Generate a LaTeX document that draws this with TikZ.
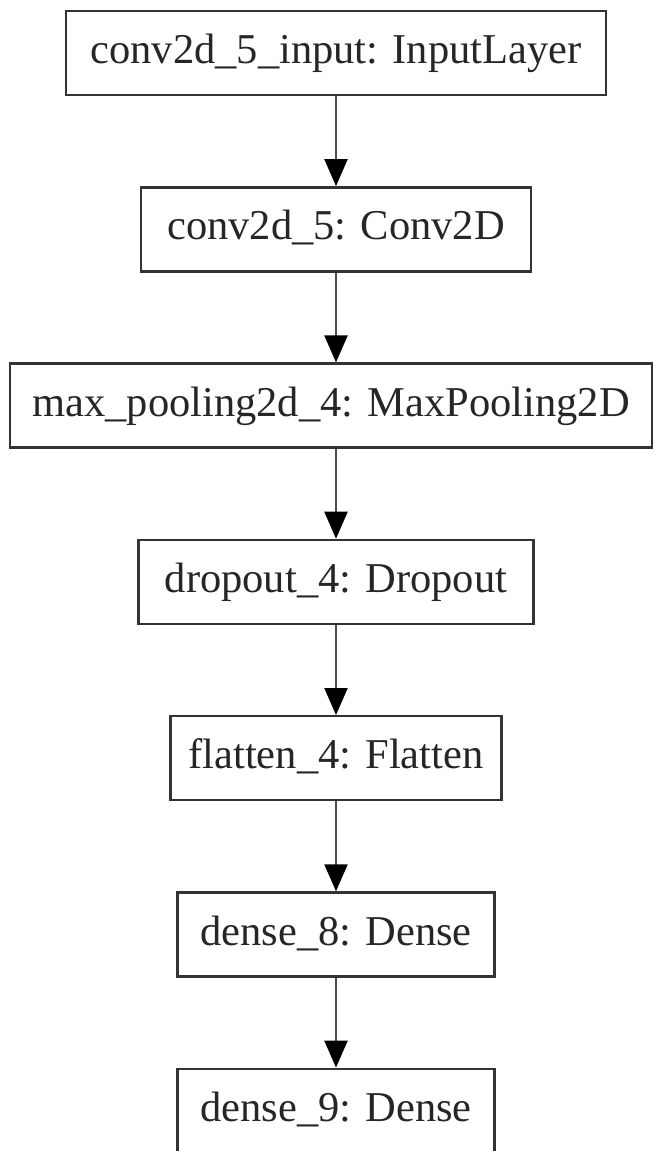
\documentclass[tikz,border=0pt]{standalone}
\usepackage{fontspec}
\setmainfont{Liberation Serif}
\usetikzlibrary{arrows.meta,positioning}

\tikzset{layer/.style={rectangle,draw=black!80,line width=2.4pt,minimum height=84pt,
  text height=30pt,text depth=9pt,inner xsep=0pt,text=black!85}}

\begin{document}
\begin{tikzpicture}[>={Triangle[length=27pt,width=23pt,color=black,fill=black]},node distance=176.3pt,
  font=\fontsize{42.5}{50}\selectfont]

\useasboundingbox (0pt,0pt) rectangle (655pt,-1151pt);

\node[layer,minimum width=540pt] (inp) at (336pt,-53pt) {conv2d\_5\_input: InputLayer};
 \node[layer,minimum width=390pt] (conv) [below of=inp] {conv2d\_5: Conv2D};
	\node[layer,minimum width=642pt,xshift=-5pt] (pool) [below of=conv] {max\_pooling2d\_4: MaxPooling2D};
	\node[layer,minimum width=395pt,xshift=5pt] (drop) [below of=pool] {dropout\_4: Dropout};
	\node[layer,minimum width=331pt] (flat) [below of=drop] {flatten\_4: Flatten};
	\node[layer,minimum width=317pt] (d8) [below of=flat] {dense\_8: Dense};
	\node[layer,minimum width=317pt] (d9) [below of=d8] {dense\_9: Dense};

	% layer chain
	\path[->,black!70,line width=2.2pt] (inp) edge (conv)
		(conv) edge (conv |- pool.north)
		(conv |- pool.south) edge (drop)
		(drop) edge (flat)
		(flat) edge (d8)
		(d8) edge (d9);

\end{tikzpicture}
\end{document}
